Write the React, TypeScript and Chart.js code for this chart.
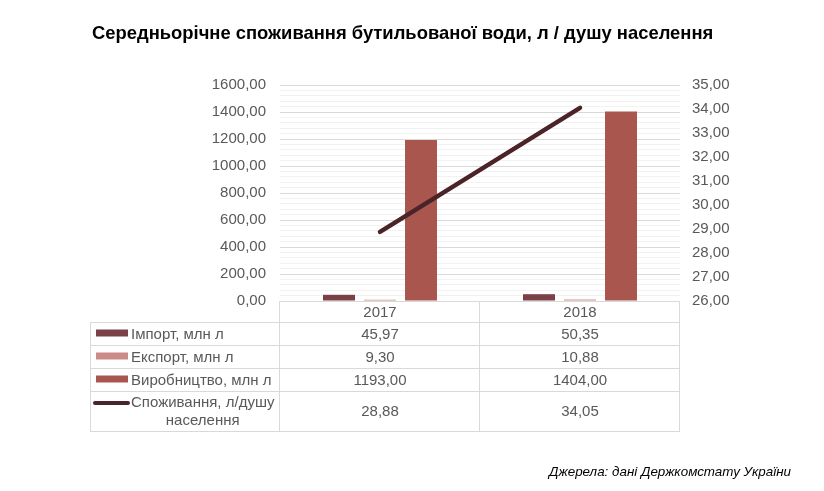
import React, { useEffect, useRef } from "react";
import { Chart, registerables } from "chart.js";

Chart.register(...registerables);

const categories = ["2017", "2018"];
const importValues = [45.97, 50.35];
const exportValues = [9.3, 10.88];
const productionValues = [1193.0, 1404.0];
const consumptionValues = [28.88, 34.05];
const seriesLabels = ["Імпорт, млн л", "Експорт, млн л", "Виробництво, млн л", "Споживання, л/душу населення"];
const title = "Середньорічне споживання бутильованої води, л / душу населення";
const source = "Джерела: дані Держкомстату України";

const COLORS = ["#7A4146", "#CB8C87", "#A9564F", "#4A2428"];
const FONT = "'Liberation Sans', Arial, sans-serif";
const TEXT = "#595959";
const GRID = "#D9D9D9";

const fmt = (v: number) => v.toFixed(2).replace(".", ",");

const tablePlugin = {
  id: "tablePlugin",
  afterDraw(chart: any) {
    const ctx = chart.ctx;
    const area = chart.chartArea;
    const xs = chart.scales.x;
    const half = (xs.getPixelForValue(1) - xs.getPixelForValue(0)) / 2;
    const colEdges = [area.left, ...categories.map((_, i) => xs.getPixelForValue(i) + half)];
    const tableLeft = 90;
    const rowH = [21, 23, 23, 23, 40];
    const ys = [area.bottom];
    rowH.forEach((h) => ys.push(ys[ys.length - 1] + h));

    ctx.save();
    // title
    ctx.fillStyle = "#000000";
    ctx.font = `bold 18.4px ${FONT}`;
    ctx.textAlign = "left";
    ctx.textBaseline = "middle";
    ctx.fillText(title, 92, 34);

    // source
    ctx.font = `italic 13.4px ${FONT}`;
    ctx.textAlign = "right";
    ctx.fillStyle = "#000000";
    ctx.fillText(source, 791, 472);

    // grid of table
    ctx.strokeStyle = GRID;
    ctx.lineWidth = 1;
    ctx.beginPath();
    ctx.moveTo(area.left, ys[0] + 0.5);
    ctx.lineTo(area.right, ys[0] + 0.5);
    for (let r = 1; r < ys.length; r++) {
      ctx.moveTo(tableLeft, Math.round(ys[r]) + 0.5);
      ctx.lineTo(area.right, Math.round(ys[r]) + 0.5);
    }
    ctx.moveTo(tableLeft + 0.5, ys[1]);
    ctx.lineTo(tableLeft + 0.5, ys[ys.length - 1]);
    colEdges.forEach((x) => {
      ctx.moveTo(Math.round(x) - 0.5, ys[0]);
      ctx.lineTo(Math.round(x) - 0.5, ys[ys.length - 1]);
    });
    ctx.stroke();

    ctx.font = `15px ${FONT}`;
    ctx.fillStyle = TEXT;
    ctx.textAlign = "center";
    ctx.textBaseline = "middle";
    categories.forEach((c, i) => {
      ctx.fillText(c, xs.getPixelForValue(i), (ys[0] + ys[1]) / 2 + 1);
    });

    const rows = [importValues, exportValues, productionValues, consumptionValues];
    rows.forEach((vals, r) => {
      const cy = (ys[r + 1] + ys[r + 2]) / 2 + 1;
      vals.forEach((v, i) => {
        ctx.textAlign = "center";
        ctx.fillStyle = TEXT;
        ctx.fillText(fmt(v), xs.getPixelForValue(i), cy);
      });
      if (r < 3) {
        ctx.fillStyle = COLORS[r];
        ctx.fillRect(96, cy - 5, 32, 7);
        ctx.fillStyle = TEXT;
        ctx.textAlign = "left";
        ctx.fillText(seriesLabels[r], 131, cy);
      } else {
        ctx.strokeStyle = COLORS[3];
        ctx.lineWidth = 4;
        ctx.lineCap = "round";
        ctx.beginPath();
        ctx.moveTo(95, cy - 9);
        ctx.lineTo(128, cy - 9);
        ctx.stroke();
        const parts = seriesLabels[3].split(" ");
        const l1 = parts.slice(0, 2).join(" ");
        const l2 = parts.slice(2).join(" ");
        ctx.fillStyle = TEXT;
        ctx.textAlign = "left";
        ctx.fillText(l1, 131, cy - 9);
        const w1 = ctx.measureText(l1).width;
        ctx.textAlign = "center";
        ctx.fillText(l2, 131 + w1 / 2, cy + 9);
      }
    });
    ctx.restore();
  },
};

export default function App() {
  const ref = useRef<HTMLCanvasElement>(null);
  useEffect(() => {
    if (!ref.current) return;
    const chart = new Chart(ref.current, {
      type: "bar",
      data: {
        labels: categories,
        datasets: [
          {
            type: "line",
            label: seriesLabels[3],
            data: consumptionValues,
            yAxisID: "y1",
            borderColor: COLORS[3],
            backgroundColor: COLORS[3],
            borderWidth: 4.5,
            borderCapStyle: "round",
            pointRadius: 0,
            order: 0,
          } as any,
          {
            label: seriesLabels[0],
            data: importValues,
            backgroundColor: COLORS[0],
            yAxisID: "y",
            order: 1,
          },
          {
            label: seriesLabels[1],
            data: exportValues,
            backgroundColor: COLORS[1],
            yAxisID: "y",
            order: 1,
          },
          {
            label: seriesLabels[2],
            data: productionValues,
            backgroundColor: COLORS[2],
            yAxisID: "y",
            order: 1,
          },
        ],
      },
      options: {
        animation: false,
        responsive: false,
        maintainAspectRatio: false,
        devicePixelRatio: 1,
        layout: { padding: { left: 0, right: 0, top: 85, bottom: 190 } },
        datasets: {
          bar: { categoryPercentage: 0.615, barPercentage: 0.78 },
        },
        plugins: {
          legend: { display: false },
          tooltip: { enabled: false },
          title: { display: false },
        },
        scales: {
          x: {
            display: false,
            offset: true,
          },
          y: {
            position: "left",
            min: 0,
            max: 1600,
            afterFit: (s: any) => {
              s.width = 280;
            },
            border: { display: false },
            grid: {
              drawTicks: false,
              color: (c: any) => (c.tick && c.tick.value % 200 === 0 ? GRID : "#F2F2F2"),
              lineWidth: 1,
            },
            ticks: {
              stepSize: 40,
              autoSkip: false,
              padding: 14,
              color: TEXT,
              font: { family: FONT, size: 15 },
              callback: (v: any) => (Number(v) % 200 === 0 ? fmt(Number(v)) : ""),
            },
          },
          y1: {
            position: "right",
            min: 26,
            max: 35,
            afterFit: (s: any) => {
              s.width = 144;
            },
            border: { display: false },
            grid: { display: false, drawTicks: false },
            ticks: {
              stepSize: 1,
              padding: 12,
              color: TEXT,
              font: { family: FONT, size: 15 },
              callback: (v: any) => fmt(Number(v)),
            },
          },
        },
      },
      plugins: [tablePlugin],
    });
    return () => chart.destroy();
  }, []);
  return (
    <div style={{ position: "fixed", left: 0, top: 0, width: 824, height: 491, background: "#fff" }}>
      <canvas ref={ref} width={824} height={491} style={{ width: 824, height: 491 }} />
    </div>
  );
}
